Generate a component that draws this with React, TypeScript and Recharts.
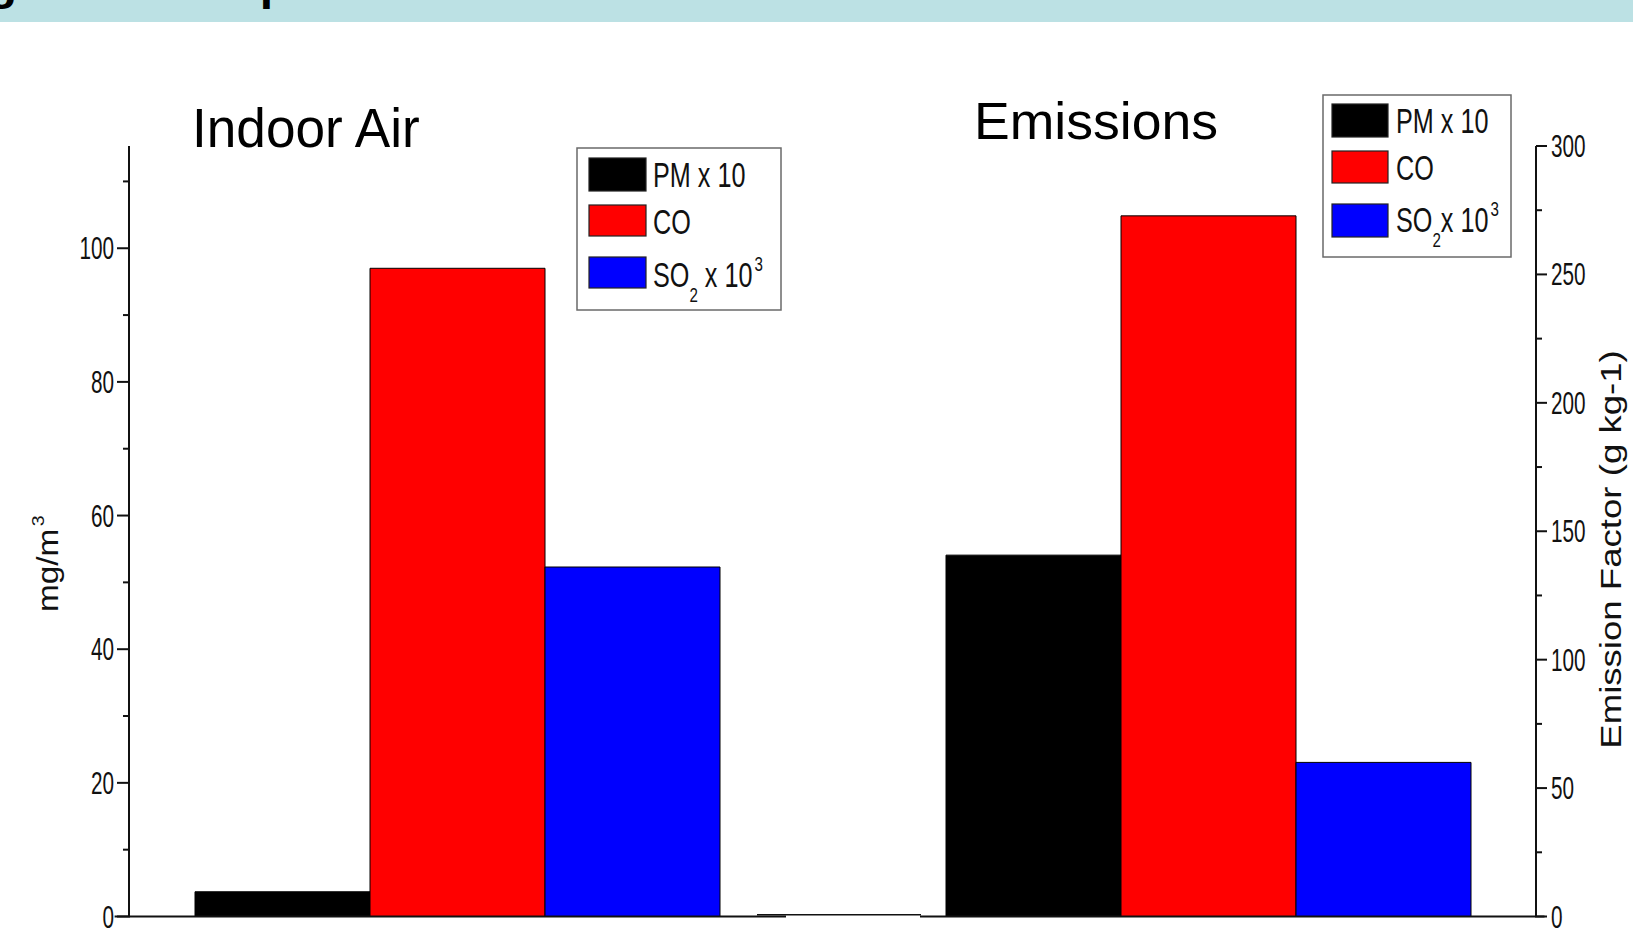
import React from 'react';
import { BarChart, Bar, XAxis, YAxis } from 'recharts';

// ---------- data ----------
const categories = ['Indoor Air', 'Emissions'];
const pmValues = [3.7, 140.7]; // PM x 10
const coValues = [97.0, 272.8]; // CO
const so2Values = [52.3, 60.0]; // SO2 x 10^3
const leftTicks = [0, 10, 20, 30, 40, 50, 60, 70, 80, 90, 100, 110];
const leftMajor = [0, 20, 40, 60, 80, 100];
const rightTicks = [0, 25, 50, 75, 100, 125, 150, 175, 200, 225, 250, 275, 300];
const rightMajor = [0, 50, 100, 150, 200, 250, 300];
const leftAxisMax = 115.3;
const rightAxisMax = 300;
const seriesKeys = ['pm', 'co', 'so2'];
const seriesColors = ['#000000', '#ff0000', '#0000ff'];
const leftAxisTitle = 'mg/m';
const rightAxisTitle = 'Emission Factor (g kg-1)';
const bannerText = 'Cooking Smoke Exposure';

const rows = categories.map((c, i) => ({ name: c, pm: pmValues[i], co: coValues[i], so2: so2Values[i] }));

const W = 1633;
const H = 934;
const FONT = 'Liberation Sans, Arial, sans-serif';

const L_TICK = 12;
const L_MARGIN = 3;
const R_TICK = 11;
const R_MARGIN = 4;

const LeftTick = (props: any) => {
  const { x, y, payload } = props;
  const v = payload.value;
  const axisX = x + L_TICK + L_MARGIN;
  const major = leftMajor.includes(v);
  const len = major ? L_TICK : 6;
  return (
    <g>
      <line x1={axisX - len} x2={axisX} y1={y} y2={y} stroke="#111" strokeWidth={2} />
      {major && (
        <text transform={`translate(${x},${y + 11}) scale(0.68,1)`} textAnchor="end" fontSize={30.5} fontFamily={FONT} fill="#111">
          {v}
        </text>
      )}
    </g>
  );
};

const RightTick = (props: any) => {
  const { x, y, payload } = props;
  const v = payload.value;
  const axisX = x - R_TICK - R_MARGIN;
  const major = rightMajor.includes(v);
  const len = major ? R_TICK : 6;
  return (
    <g>
      <line x1={axisX} x2={axisX + len} y1={y} y2={y} stroke="#111" strokeWidth={2} />
      {major && (
        <text transform={`translate(${x},${y + 11}) scale(0.68,1)`} textAnchor="start" fontSize={30.5} fontFamily={FONT} fill="#111">
          {v}
        </text>
      )}
    </g>
  );
};

type LegendLayout = {
  x: number; y: number; w: number; h: number;
  swX: number; swW: number; textX: number;
  rowsTop: number[]; rowsH: number[]; baselines: number[];
  soSpace: boolean;
};

const LegendLabel = ({ idx, soSpace }: { idx: number; soSpace: boolean }) => {
  if (idx === 0) return <>PM x 10</>;
  if (idx === 1) return <>CO</>;
  return (
    <>
      SO
      <tspan dy={15} fontSize={21}>2</tspan>
      <tspan dy={-15} fontSize={35}>{soSpace ? ' x 10' : 'x 10'}</tspan>
      <tspan dy={-16} dx={3} fontSize={21}>3</tspan>
    </>
  );
};

const LegendBox = ({ l }: { l: LegendLayout }) => (
  <g>
    <rect x={l.x} y={l.y} width={l.w} height={l.h} fill="#fff" stroke="#6a6a6a" strokeWidth={1.5} />
    {seriesColors.map((c, i) => (
      <g key={i}>
        <rect x={l.swX} y={l.rowsTop[i]} width={l.swW} height={l.rowsH[i]} fill={c} stroke="#222" strokeWidth={1.2} />
        <text transform={`translate(${l.textX},${l.baselines[i]}) scale(0.72,1)`} fontSize={35} fontFamily={FONT} fill="#111">
          <LegendLabel idx={i} soSpace={l.soSpace} />
        </text>
      </g>
    ))}
  </g>
);

const leftLegend: LegendLayout = {
  x: 577, y: 148, w: 204, h: 162, swX: 589, swW: 57, textX: 653,
  rowsTop: [158, 205, 257], rowsH: [33, 31, 31], baselines: [187, 234, 287], soSpace: true,
};
const rightLegend: LegendLayout = {
  x: 1323, y: 95, w: 188, h: 162, swX: 1332, swW: 56, textX: 1396,
  rowsTop: [104, 151, 204], rowsH: [33, 32, 33], baselines: [133, 180, 232], soSpace: false,
};

const PLOT_TOP = 146;
const PLOT_BOTTOM = 916.5;

export default function App() {
  const abs: React.CSSProperties = { position: 'absolute', left: 0, top: 0 };
  return (
    <div style={{ position: 'absolute', left: 0, top: 0, width: W, height: H, overflow: 'hidden', background: '#fff' }}>
      <div style={abs}>
        <BarChart
          width={W}
          height={H}
          data={[rows[0]]}
          margin={{ top: PLOT_TOP, right: W - 786, bottom: H - PLOT_BOTTOM - 1, left: 129 - 60 }}
          barCategoryGap={0}
          barGap={0}
        >
          <XAxis dataKey="name" height={1} tick={false} tickLine={false} axisLine={{ stroke: '#111', strokeWidth: 2 }} padding={{ left: 66, right: 65 }} />
          <YAxis
            width={60}
            domain={[0, leftAxisMax]}
            ticks={leftTicks}
            interval={0}
            tickSize={L_TICK}
            tickMargin={L_MARGIN}
            tickLine={false}
            tick={<LeftTick />}
            axisLine={{ stroke: '#111', strokeWidth: 2 }}
            allowDataOverflow
          />
          {seriesKeys.map((k, i) => (
            <Bar key={k} dataKey={k} fill={seriesColors[i]} stroke="#000" strokeWidth={1} isAnimationActive={false} />
          ))}
        </BarChart>
      </div>
      <div style={abs}>
        <BarChart
          width={W}
          height={H}
          data={[rows[1]]}
          margin={{ top: PLOT_TOP, right: W - 1536 - 60, bottom: H - PLOT_BOTTOM - 1, left: 920 }}
          barCategoryGap={0}
          barGap={0}
        >
          <XAxis dataKey="name" height={1} tick={false} tickLine={false} axisLine={{ stroke: '#111', strokeWidth: 2 }} padding={{ left: 26, right: 66 }} />
          <YAxis
            orientation="right"
            width={60}
            domain={[0, rightAxisMax]}
            ticks={rightTicks}
            interval={0}
            tickSize={R_TICK}
            tickMargin={R_MARGIN}
            tickLine={false}
            tick={<RightTick />}
            axisLine={{ stroke: '#111', strokeWidth: 2 }}
            allowDataOverflow
          />
          {seriesKeys.map((k, i) => (
            <Bar key={k} dataKey={k} fill={seriesColors[i]} stroke="#000" strokeWidth={1} isAnimationActive={false} />
          ))}
        </BarChart>
      </div>
      <svg width={W} height={H} style={{ ...abs, pointerEvents: 'none' }}>
        <rect x={0} y={0} width={W} height={22} fill="#bce1e4" />
        <text x={-175} y={-1} fontSize={48} fontWeight="bold" fontFamily={FONT} fill="#000">{bannerText}</text>
        {/* panel titles */}
        <text transform="translate(192,146.7) scale(0.95,1)" fontSize={56} fontFamily={FONT} fill="#000">{categories[0]}</text>
        <text transform="translate(974,139) scale(1.03,1)" fontSize={52} fontFamily={FONT} fill="#000">{categories[1]}</text>
        {/* axis titles */}
        <text transform="translate(58,612) rotate(-90) scale(1.15,1)" fontSize={29} fontFamily={FONT} fill="#111">
          {leftAxisTitle}
          <tspan dy={-14} dx={2} fontSize={17}>3</tspan>
        </text>
        <text transform="translate(1621,549.5) rotate(-90) scale(1.22,1)" textAnchor="middle" fontSize={30} fontFamily={FONT} fill="#111">
          {rightAxisTitle}
        </text>
        {/* baseline extensions */}
        <line x1={114.6} x2={130} y1={PLOT_BOTTOM} y2={PLOT_BOTTOM} stroke="#111" strokeWidth={2} />
        <line x1={757} x2={921} y1={914.8} y2={914.8} stroke="#111" strokeWidth={1.5} />
        <line x1={1535} x2={1544.5} y1={PLOT_BOTTOM} y2={PLOT_BOTTOM} stroke="#111" strokeWidth={2} />
        <LegendBox l={leftLegend} />
        <LegendBox l={rightLegend} />
      </svg>
    </div>
  );
}
